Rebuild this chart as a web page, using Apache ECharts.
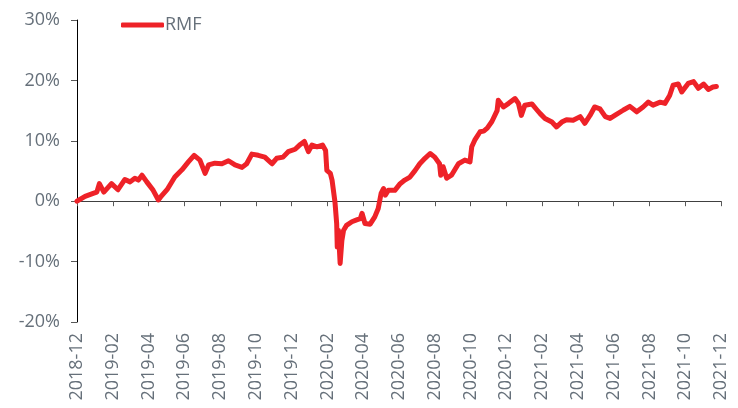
<html>
<head>
    <meta charset="utf-8" />
    <style>
        html, body { margin: 0; padding: 0; background: #fff; }
        #chart { width: 738px; height: 408px; }
    </style>
    <script src="https://cdn.jsdelivr.net/npm/echarts@6/dist/echarts.min.js"></script>
</head>
<body>
    <div id="chart"></div>
    <script type="text/javascript">
        var seriesName = 'RMF';
        var yTicks = [-20, -10, 0, 10, 20, 30];
        // trading dates (roughly weekly)
        var dates = [
            '2018-12-31', '2019-01-14', '2019-01-28', '2019-02-03', '2019-02-07', '2019-02-14', '2019-02-26',
            '2019-03-09', '2019-03-21', '2019-03-30', '2019-04-07', '2019-04-13', '2019-04-19', '2019-04-27',
            '2019-05-08', '2019-05-17', '2019-05-21', '2019-06-01', '2019-06-14', '2019-06-26', '2019-07-07',
            '2019-07-17', '2019-07-19', '2019-07-27', '2019-08-05', '2019-08-11', '2019-08-22', '2019-09-03',
            '2019-09-14', '2019-09-25', '2019-10-07', '2019-10-15', '2019-10-24', '2019-11-04', '2019-11-15',
            '2019-11-27', '2019-12-05', '2019-12-16', '2019-12-25', '2020-01-06', '2020-01-15', '2020-01-22',
            '2020-01-29', '2020-02-01', '2020-02-04', '2020-02-12', '2020-02-21', '2020-02-26', '2020-02-28',
            '2020-03-05', '2020-03-08', '2020-03-13', '2020-03-16', '2020-03-17', '2020-03-19', '2020-03-22',
            '2020-03-25', '2020-03-28', '2020-04-02', '2020-04-11', '2020-04-19', '2020-04-25', '2020-04-28',
            '2020-05-03', '2020-05-12', '2020-05-20', '2020-05-26', '2020-05-31', '2020-06-04', '2020-06-07',
            '2020-06-12', '2020-06-23', '2020-07-02', '2020-07-10', '2020-07-19', '2020-07-28', '2020-08-05',
            '2020-08-14', '2020-08-23', '2020-08-31', '2020-09-08', '2020-09-10', '2020-09-14', '2020-09-20',
            '2020-09-28', '2020-10-10', '2020-10-21', '2020-10-30', '2020-11-02', '2020-11-07', '2020-11-16',
            '2020-11-22', '2020-11-28', '2020-12-06', '2020-12-15', '2020-12-17', '2020-12-26', '2021-01-04',
            '2021-01-15', '2021-01-21', '2021-01-26', '2021-02-01', '2021-02-12', '2021-02-20', '2021-02-25',
            '2021-03-05', '2021-03-17', '2021-03-25', '2021-04-03', '2021-04-11', '2021-04-22', '2021-05-04',
            '2021-05-12', '2021-05-21', '2021-05-29', '2021-06-07', '2021-06-16', '2021-06-24', '2021-07-02',
            '2021-07-17', '2021-07-28', '2021-08-09', '2021-08-20', '2021-08-29', '2021-09-06', '2021-09-18',
            '2021-09-26', '2021-10-04', '2021-10-10', '2021-10-19', '2021-10-25', '2021-11-05', '2021-11-14',
            '2021-11-22', '2021-12-01', '2021-12-09', '2021-12-17', '2021-12-23'
        ];
        // cumulative return, %
        var rmf = [
            0, 0.8, 1.3, 1.5, 2.9, 1.5, 2.9,
            1.9, 3.6, 3.2, 3.8, 3.5, 4.3, 3.2,
            1.8, 0.2, 0.7, 1.9, 4.0, 5.2, 6.5,
            7.6, 7.9, 6.8, 4.6, 6.0, 6.3, 6.2,
            6.7, 6.0, 5.6, 6.2, 7.8, 7.6, 7.3,
            6.2, 7.1, 7.3, 8.2, 8.6, 9.4, 9.9,
            8.2, 7.9, 9.3, 9.0, 9.3, 8.4, 5.1,
            4.6, 3.5, -0.1, -3.7, -7.6, -4.8, -10.3,
            -6.5, -4.8, -4.0, -3.4, -3.1, -2.9, -2.0,
            -3.7, -3.8, -2.6, -1.2, 1.3, 2.1, 1.0,
            1.8, 1.8, 2.9, 3.5, 4.0, 5.1, 6.2,
            7.1, 7.9, 7.3, 6.2, 4.3, 5.7, 3.8,
            4.3, 6.2, 6.8, 6.5, 9.0, 10.1, 11.5,
            11.6, 12.1, 13.2, 15.0, 16.7, 15.6, 16.2,
            17.0, 16.2, 14.2, 15.9, 16.1, 15.1, 14.5,
            13.7, 13.1, 12.3, 13.1, 13.5, 13.4, 14.0,
            12.9, 14.2, 15.6, 15.3, 14.0, 13.7, 14.2,
            15.1, 15.7, 14.8, 15.6, 16.4, 15.9, 16.4,
            16.2, 17.5, 19.2, 19.4, 18.1, 19.5, 19.8,
            18.7, 19.4, 18.5, 18.9, 19.0
        ];

        // month position counted from the end of 2018-12 (ticks sit on month ends)
        function monthPos(s) {
            var p = s.split('-');
            var y = +p[0], m = +p[1], d = +p[2];
            var dim = new Date(y, m, 0).getDate();
            return (y - 2018) * 12 + (m - 12) + d / dim - 1;
        }
        function monthLabel(v) {
            var total = 2018 * 12 + 11 + Math.round(v);
            var yy = Math.floor(total / 12);
            var mm = total % 12 + 1;
            return yy + '-' + (mm < 10 ? '0' + mm : mm);
        }

        var points = dates.map(function (d, i) {
            return [monthPos(d), rmf[i]];
        });

        var textColor = '#66707a';
        var font = 'Open Sans';

        var chart = echarts.init(document.getElementById('chart'));
        var option = {
            backgroundColor: '#fff',
            animation: false,
            grid: { left: 77, right: 17, top: 20, bottom: 86, containLabel: false },
            legend: {
                left: 116,
                top: 11,
                icon: 'roundRect',
                itemWidth: 43,
                itemHeight: 5,
                textStyle: { color: textColor, fontSize: 18, fontFamily: font, padding: [0, 0, 0, -4] },
                data: [seriesName]
            },
            xAxis: [{
                type: 'value',
                position: 'bottom',
                min: 0, max: 36, interval: 2,
                axisLine: { onZero: true, lineStyle: { color: '#404040', width: 1 } },
                axisTick: { show: true, length: 5, lineStyle: { color: '#595959' } },
                axisLabel: { show: false },
                splitLine: { show: false }
            }, {
                type: 'value',
                position: 'bottom',
                min: 0, max: 36, interval: 2,
                axisLine: { show: false, onZero: false },
                axisTick: { show: false },
                axisLabel: {
                    show: true,
                    rotate: 90,
                    margin: 11,
                    color: textColor,
                    fontSize: 18,
                    fontFamily: font,
                    formatter: monthLabel
                },
                splitLine: { show: false }
            }],
            yAxis: {
                type: 'value',
                min: yTicks[0],
                max: yTicks[yTicks.length - 1],
                interval: 10,
                axisLine: { show: true, onZero: false, lineStyle: { color: '#000', width: 1 } },
                axisTick: { show: true, length: 6, lineStyle: { color: '#595959' } },
                axisLabel: {
                    color: textColor,
                    fontSize: 18,
                    fontFamily: font,
                    margin: 17,
                    formatter: '{value}%'
                },
                splitLine: { show: false }
            },
            series: [{
                name: seriesName,
                type: 'line',
                xAxisIndex: 0,
                data: points,
                showSymbol: false,
                symbol: 'none',
                color: '#ee2228',
                lineStyle: { width: 5, color: '#ee2228', cap: 'round', join: 'round' }
            }]
        };
        chart.setOption(option);
    </script>
</body>
</html>
